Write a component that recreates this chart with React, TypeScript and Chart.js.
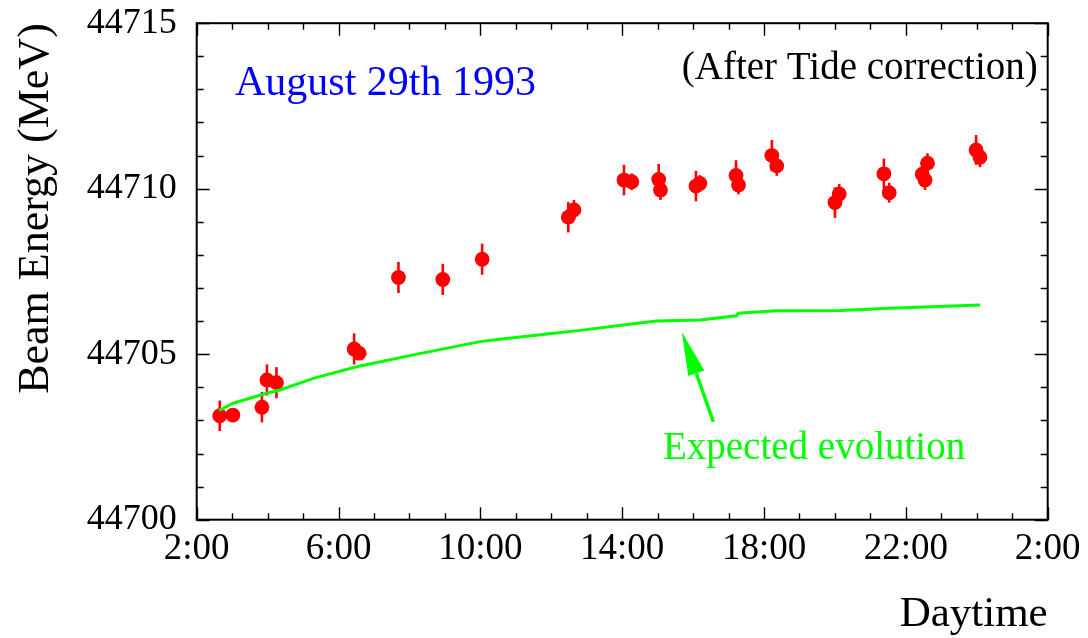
import { useEffect, useRef } from 'react';
import { Chart, registerables } from 'chart.js';

Chart.register(...registerables);

// ---- Data ----
const measuredHours = [2.65, 3.02, 3.84, 3.98, 4.25, 6.44, 6.58, 7.69, 8.94, 10.05, 12.48, 12.64, 14.05, 14.27, 15.03, 15.08, 16.08, 16.19, 17.21, 17.28, 18.22, 18.36, 20.0, 20.12, 21.38, 21.53, 22.46, 22.54, 22.61, 23.98, 24.09];
const measuredEnergy = [44703.14, 44703.16, 44703.4, 44704.22, 44704.14, 44705.16, 44705.03, 44707.32, 44707.26, 44707.87, 44709.14, 44709.36, 44710.26, 44710.21, 44710.28, 44709.96, 44710.08, 44710.16, 44710.4, 44710.11, 44711.0, 44710.69, 44709.58, 44709.84, 44710.45, 44709.88, 44710.44, 44710.26, 44710.77, 44711.17, 44710.95];
const measuredError = [0.46, 0.2, 0.46, 0.47, 0.47, 0.47, 0.2, 0.47, 0.47, 0.47, 0.46, 0.3, 0.46, 0.25, 0.47, 0.3, 0.46, 0.25, 0.46, 0.28, 0.47, 0.3, 0.46, 0.3, 0.46, 0.3, 0.3, 0.3, 0.3, 0.45, 0.3];

const expectedHours = [2.63, 3.03, 3.97, 4.35, 5.29, 6.51, 8.11, 9.99, 10.55, 11.7, 12.81, 14.03, 14.97, 16.19, 17.23, 17.27, 18.36, 20.14, 21.55, 24.09];
const expectedEnergy = [44703.3, 44703.52, 44703.82, 44703.92, 44704.27, 44704.62, 44704.98, 44705.38, 44705.45, 44705.59, 44705.72, 44705.88, 44706.0, 44706.03, 44706.16, 44706.24, 44706.31, 44706.32, 44706.39, 44706.49];

const xTickHours = [2, 6, 10, 14, 18, 22, 26];
const xTickLabels = ['2:00', '6:00', '10:00', '14:00', '18:00', '22:00', '2:00'];
const yTickValues = [44700, 44705, 44710, 44715];

const X_MIN = 2;
const X_MAX = 26;
const Y_MIN = 44700;
const Y_MAX = 44715;

const FONT = '"Liberation Serif", "Times New Roman", serif';

// annotation anchors in data coordinates
const dateLabel = { text: 'August 29th 1993', x: 3.08, y: 44712.83 };
const tideLabel = { text: '(After Tide correction)', x: 25.72, y: 44713.31 };
const expLabel = { text: 'Expected evolution', x: 15.15, y: 44701.83 };
const arrowTail = { x: 16.57, y: 44702.96 };
const arrowTip = { x: 15.68, y: 44705.68 };

const errorBarPlugin = {
  id: 'errorBars',
  beforeDatasetsDraw(chart: any) {
    const { ctx, scales } = chart;
    const xs = scales.x;
    const ys = scales.y;
    ctx.save();
    ctx.strokeStyle = '#ff0000';
    ctx.lineWidth = 2.6;
    for (let i = 0; i < measuredHours.length; i++) {
      const px = xs.getPixelForValue(measuredHours[i]);
      const y1 = ys.getPixelForValue(measuredEnergy[i] - measuredError[i]);
      const y2 = ys.getPixelForValue(measuredEnergy[i] + measuredError[i]);
      ctx.beginPath();
      ctx.moveTo(px, y1);
      ctx.lineTo(px, y2);
      ctx.stroke();
    }
    ctx.restore();
  },
};

const framePlugin = {
  id: 'frameTicks',
  afterDraw(chart: any) {
    const { ctx, chartArea, scales } = chart;
    const { left, right, top, bottom } = chartArea;
    const xs = scales.x;
    const ys = scales.y;
    ctx.save();
    ctx.strokeStyle = '#000';
    ctx.lineWidth = 1.4;
    for (let h = X_MIN; h <= X_MAX; h++) {
      const px = Math.round(xs.getPixelForValue(h)) + 0.5;
      const len = (h - X_MIN) % 4 === 0 ? 12.5 : 6.5;
      ctx.beginPath();
      ctx.moveTo(px, bottom);
      ctx.lineTo(px, bottom - len);
      ctx.moveTo(px, top);
      ctx.lineTo(px, top + len);
      ctx.stroke();
    }
    for (let v = Y_MIN; v <= Y_MAX; v++) {
      const py = Math.round(ys.getPixelForValue(v)) + 0.5;
      const len = (v - Y_MIN) % 5 === 0 ? 13 : 7;
      ctx.beginPath();
      ctx.moveTo(left, py);
      ctx.lineTo(left + len, py);
      ctx.moveTo(right, py);
      ctx.lineTo(right - len, py);
      ctx.stroke();
    }
    ctx.lineWidth = 2;
    ctx.strokeRect(left, top, right - left, bottom - top);
    ctx.restore();
  },
};

const annotationPlugin = {
  id: 'annotations',
  afterDraw(chart: any) {
    const { ctx, scales } = chart;
    const xs = scales.x;
    const ys = scales.y;
    ctx.save();
    ctx.textBaseline = 'alphabetic';

    ctx.fillStyle = '#0000ff';
    ctx.font = `42px ${FONT}`;
    ctx.textAlign = 'left';
    ctx.fillText(dateLabel.text, xs.getPixelForValue(dateLabel.x), ys.getPixelForValue(dateLabel.y));

    ctx.fillStyle = '#000000';
    ctx.font = `39px ${FONT}`;
    ctx.textAlign = 'right';
    ctx.fillText(tideLabel.text, xs.getPixelForValue(tideLabel.x), ys.getPixelForValue(tideLabel.y));

    ctx.fillStyle = '#00ff00';
    ctx.font = `39px ${FONT}`;
    ctx.textAlign = 'left';
    ctx.fillText(expLabel.text, xs.getPixelForValue(expLabel.x), ys.getPixelForValue(expLabel.y));

    // arrow
    const tx = xs.getPixelForValue(arrowTail.x);
    const ty = ys.getPixelForValue(arrowTail.y);
    const hx = xs.getPixelForValue(arrowTip.x);
    const hy = ys.getPixelForValue(arrowTip.y);
    const ang = Math.atan2(hy - ty, hx - tx);
    const headLen = 44;
    const headHalf = 8.5;
    const bx = hx - headLen * Math.cos(ang);
    const by = hy - headLen * Math.sin(ang);
    ctx.strokeStyle = '#00ff00';
    ctx.lineWidth = 3.5;
    ctx.beginPath();
    ctx.moveTo(tx, ty);
    ctx.lineTo(bx, by);
    ctx.stroke();
    ctx.fillStyle = '#00ff00';
    ctx.beginPath();
    ctx.moveTo(hx, hy);
    ctx.lineTo(bx + headHalf * Math.sin(ang), by - headHalf * Math.cos(ang));
    ctx.lineTo(bx - headHalf * Math.sin(ang), by + headHalf * Math.cos(ang));
    ctx.closePath();
    ctx.fill();
    ctx.restore();
  },
};

export default function App() {
  const canvasRef = useRef<HTMLCanvasElement | null>(null);

  useEffect(() => {
    document.body.style.margin = '0';
    const canvas = canvasRef.current;
    if (!canvas) return;

    const measured = measuredHours.map((h, i) => ({ x: h, y: measuredEnergy[i] }));
    const expected = expectedHours.map((h, i) => ({ x: h, y: expectedEnergy[i] }));

    const chart = new Chart(canvas, {
      type: 'scatter',
      data: {
        datasets: [
          {
            type: 'line',
            label: 'Expected evolution',
            data: expected,
            borderColor: '#00ff00',
            backgroundColor: '#00ff00',
            borderWidth: 3,
            pointRadius: 0,
            tension: 0,
            fill: false,
            order: 0,
          },
          {
            type: 'scatter',
            label: 'Measured',
            data: measured,
            backgroundColor: '#ff0000',
            borderColor: '#ff0000',
            borderWidth: 0,
            pointRadius: 7.4,
            order: 1,
          },
        ],
      },
      options: {
        responsive: false,
        animation: false,
        devicePixelRatio: 1,
        layout: { padding: { top: 23.2, right: 40.3, left: 0, bottom: 0 } },
        plugins: {
          legend: { display: false },
          tooltip: { enabled: false },
        },
        scales: {
          x: {
            type: 'linear',
            min: X_MIN,
            max: X_MAX,
            grid: { display: false, drawTicks: false },
            border: { display: false },
            afterBuildTicks: (scale: any) => {
              scale.ticks = xTickHours.map((v) => ({ value: v }));
            },
            afterFit: (scale: any) => {
              scale.height = 118.3;
            },
            ticks: {
              autoSkip: false,
              maxRotation: 0,
              padding: 7,
              color: '#000',
              font: { family: FONT, size: 37 },
              callback: (v: any) => {
                const idx = xTickHours.indexOf(Number(v));
                return idx >= 0 ? xTickLabels[idx] : '';
              },
            },
            title: {
              display: true,
              text: 'Daytime',
              align: 'end',
              color: '#000',
              font: { family: FONT, size: 43, lineHeight: 1 },
              padding: { top: 0, bottom: 2 },
            },
          },
          y: {
            type: 'linear',
            min: Y_MIN,
            max: Y_MAX,
            grid: { display: false, drawTicks: false },
            border: { display: false },
            afterBuildTicks: (scale: any) => {
              scale.ticks = yTickValues.map((v) => ({ value: v }));
            },
            afterFit: (scale: any) => {
              scale.width = 196.7;
            },
            ticks: {
              autoSkip: false,
              padding: 20,
              color: '#000',
              font: { family: FONT, size: 36, lineHeight: 0.05 },
              callback: (v: any) => String(v),
            },
            title: {
              display: true,
              text: 'Beam Energy (MeV)',
              align: 'end',
              color: '#000',
              font: { family: FONT, size: 44, lineHeight: 1 },
              padding: { top: 14, bottom: 0 },
            },
          },
        },
      },
      plugins: [errorBarPlugin, framePlugin, annotationPlugin],
    } as any);

    return () => {
      chart.destroy();
    };
  }, []);

  return (
    <div style={{ width: 1088, height: 638 }}>
      <canvas ref={canvasRef} width={1088} height={638} />
    </div>
  );
}
